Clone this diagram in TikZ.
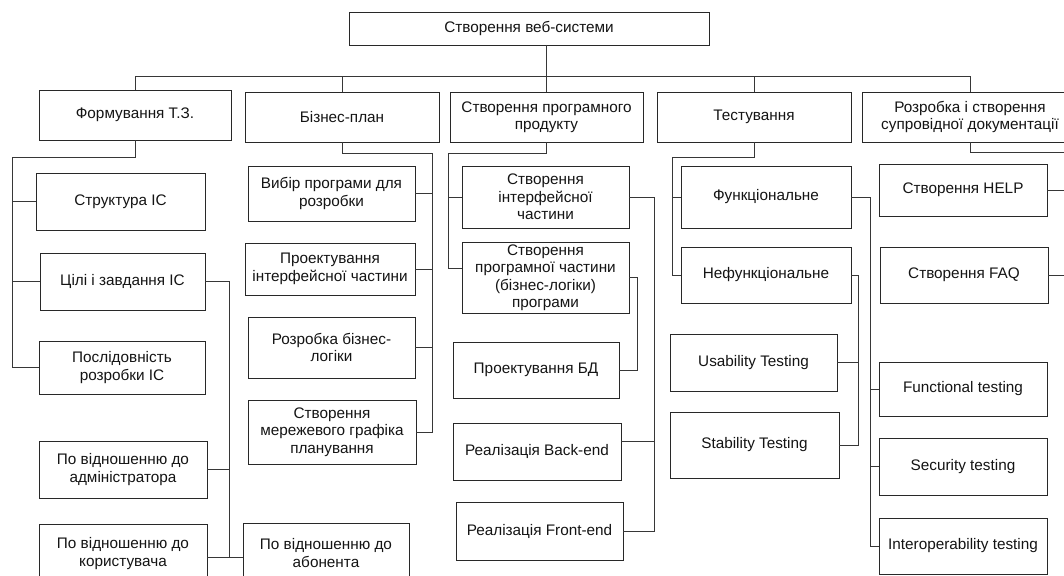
\documentclass[tikz,border=0pt]{standalone}
\usepackage{fontspec}
\setmainfont{Liberation Sans}
\definecolor{boxline}{RGB}{40,40,40}
\definecolor{boxtext}{RGB}{20,20,20}
\definecolor{linkline}{RGB}{55,55,55}
\tikzset{
  box/.style={draw=boxline, line width=0.9pt, fill=white, align=center,
    inner sep=2pt, outer sep=0pt, font=\fontsize{15.3}{17.5}\selectfont, text=boxtext},
  link/.style={draw=linkline, line width=0.8pt},
}
% \wbsbox{name}{x1}{y1}{x2}{y2}{label}: a box spanning the given corners
\newcommand\wbsbox[6]{%
  \node[box, minimum width={(#4-#2)*1pt}, minimum height={(#5-#3)*1pt}]
    (#1) at ({(#2+#4)/2},{(#3+#5)/2}) {#6};}
\begin{document}
\begin{tikzpicture}[x=1pt, y=-1pt]
\useasboundingbox (0,0) rectangle (1064,575);
\clip (0,0) rectangle (1064,575);

% root and first level
\wbsbox{root}{349}{12}{709}{45}{Створення веб-системи}
\wbsbox{tz}{39}{90}{231}{140}{Формування Т.З.}
\wbsbox{bp}{245}{92}{439}{142}{Бізнес-план}
\wbsbox{pp}{450}{92}{643}{142}{Створення програмного\\продукту}
\wbsbox{ts}{657}{92}{851}{142}{Тестування}
\wbsbox{doc}{862}{92}{1078}{142}{Розробка і створення\\супровідної документації}

% requirements branch
\wbsbox{st}{36}{173}{205}{230}{Структура ІС}
\wbsbox{gl}{40}{253}{205}{310}{Цілі і завдання ІС}
\wbsbox{sq}{39}{341}{205}{394}{Послідовність\\розробки ІС}
\wbsbox{ad}{39}{441}{207}{498}{По відношенню до\\адміністратора}
\wbsbox{us}{39}{524}{207}{583}{По відношенню до\\користувача}
\wbsbox{ab}{243}{523}{409}{583}{По відношенню до\\абонента}

% business plan branch
\wbsbox{b1}{248}{166}{415}{221}{Вибір програми для\\розробки}
\wbsbox{b2}{245}{243}{415}{295}{Проектування\\інтерфейсної частини}
\wbsbox{b3}{248}{317}{415}{378}{Розробка бізнес-\\логіки}
\wbsbox{b4}{248}{400}{416}{464}{Створення\\мережевого графіка\\планування}

% software product branch
\wbsbox{p1}{462}{166}{629}{228}{Створення\\інтерфейсної\\частини}
\wbsbox{p2}{462}{242}{629}{313}{Створення\\програмної частини\\(бізнес-логіки)\\програми}
\wbsbox{bd}{453}{342}{619}{398}{Проектування БД}
\wbsbox{be}{453}{423}{621}{480}{Реалізація Back-end}
\wbsbox{fe}{456}{502}{623}{560}{Реалізація Front-end}

% testing branch
\wbsbox{f1}{681}{166}{851}{228}{Функціональне}
\wbsbox{f2}{681}{247}{851}{303}{Нефункціональне}
\wbsbox{u1}{670}{334}{837}{391}{Usability Testing}
\wbsbox{u2}{670}{412}{839}{478}{Stability Testing}
\wbsbox{t1}{879}{362}{1047}{416}{Functional testing}
\wbsbox{t2}{879}{438}{1047}{495}{Security testing}
\wbsbox{t3}{879}{518}{1047}{574}{Interoperability testing}

% documentation branch
\wbsbox{h1}{879}{164}{1047}{216}{Створення HELP}
\wbsbox{h2}{880}{247}{1048}{303}{Створення FAQ}

% junction points of the connectors
\coordinate (jd) at (970,76);
\coordinate (jtz) at (12,157);
\coordinate (jg) at (229,557);
\coordinate (jb) at (432,153);
\coordinate (jp) at (448,153);
\coordinate (jq) at (654,0);
\coordinate (jr) at (637,0);
\coordinate (jt) at (672,157);
\coordinate (jn) at (858,0);
\coordinate (jf) at (870,0);
\coordinate (jh) at (1070,152);
\coordinate (p2in) at ([yshift=9.5pt]p2.west);
\coordinate (beout) at ([yshift=10pt]be.east);

% top level bus
\draw[link] (tz.north) |- (jd) -- (doc.north);
\draw[link] (pp.north |- root.south) -- (pp.north);
\draw[link] (bp.north) -- (bp.north |- jd);
\draw[link] (ts.north) -- (ts.north |- jd);

% requirements branch
\draw[link] (tz.south) |- (jtz) |- (sq.west);
\draw[link] (jtz |- st.west) -- (st.west);
\draw[link] (jtz |- gl.west) -- (gl.west);
\draw[link] (gl.east) -| (jg);
\draw[link] (ad.east) -- (jg |- ad.east);
\draw[link] (us.east |- jg) -- (ab.west |- jg);

% business plan branch
\draw[link] (bp.south) |- (jb) |- (b4.east);
\draw[link] (b1.east) -- (jb |- b1.east);
\draw[link] (b2.east) -- (jb |- b2.east);
\draw[link] (b3.east) -- (jb |- b3.east);

% software product branch
\draw[link] (pp.south) |- (jp) |- (p2in);
\draw[link] (jp |- p1.west) -- (p1.west);
\draw[link] (p1.east) -| (jq |- fe.east) -- (fe.east);
\draw[link] (beout) -- (jq |- beout);
\draw[link] (p2.east) -| (jr |- bd.east) -- (bd.east);

% testing branch
\draw[link] (ts.south) |- (jt) |- (f2.west);
\draw[link] (jt |- f1.west) -- (f1.west);
\draw[link] (f2.east) -| (jn |- u2.east) -- (u2.east);
\draw[link] (u1.east) -- (jn |- u1.east);
\draw[link] (f1.east) -| (jf |- t3.west) -- (t3.west);
\draw[link] (jf |- t1.west) -- (t1.west);
\draw[link] (jf |- t2.west) -- (t2.west);

% documentation branch
\draw[link] (doc.south) |- (jh) |- (h2.east);
\draw[link] (h1.east) -- (jh |- h1.east);
\end{tikzpicture}
\end{document}
